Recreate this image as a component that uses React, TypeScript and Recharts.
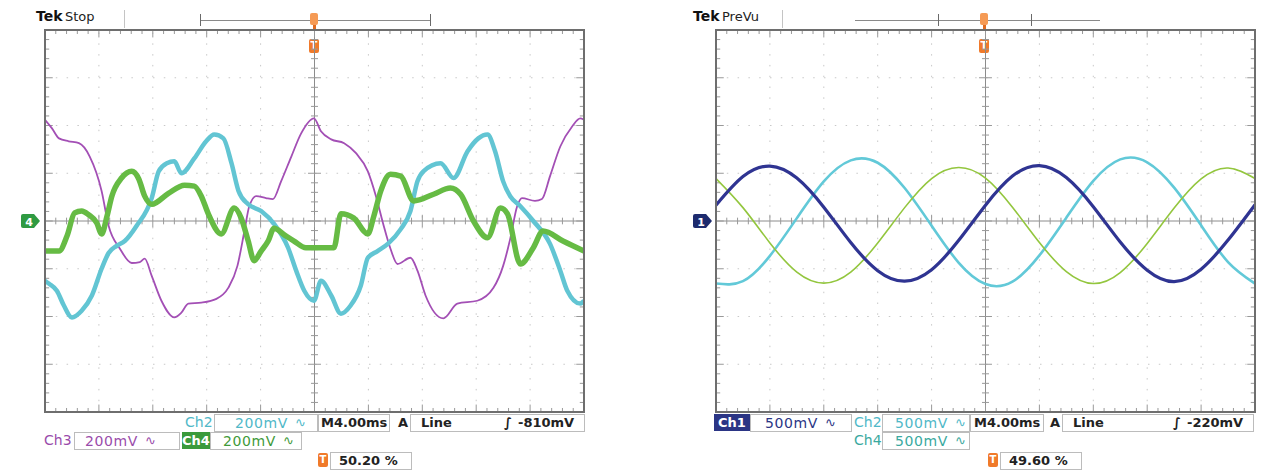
import { LineChart, Line, XAxis, YAxis, ReferenceLine } from "recharts";

type Pt = [number, number];

// left screen, time in divisions (0..10), volts in divisions (-4..4)
const ch3Left: Pt[] = [
  [0, 2.12], [0.13, 1.94], [0.26, 1.73], [0.44, 1.67], [0.63, 1.63], [0.83, 1.35], [1.05, 0.63],
  [1.18, -0.1], [1.39, -0.58], [1.61, -0.88], [1.76, -0.86], [1.85, -0.79], [1.98, -1.15], [2.16, -1.67],
  [2.4, -2.02], [2.53, -1.92], [2.66, -1.73], [2.9, -1.71], [3.18, -1.63], [3.4, -1.4], [3.57, -0.94],
  [3.7, -0.21], [3.79, 0.31], [3.92, 0.52], [4.1, 0.48], [4.23, 0.46], [4.38, 0.83], [4.57, 1.35],
  [4.75, 1.83], [4.99, 2.15], [5.12, 1.88], [5.31, 1.71], [5.55, 1.63], [5.77, 1.42], [5.99, 1.04],
  [6.14, 0.52], [6.27, -0.04], [6.41, -0.58], [6.54, -0.9], [6.78, -0.77], [6.91, -1.04], [7.06, -1.56],
  [7.39, -2.04], [7.65, -1.73], [8.02, -1.67], [8.32, -1.4], [8.5, -0.94], [8.63, -0.38], [8.76, 0.31],
  [8.85, 0.48], [9.09, 0.42], [9.22, 0.46], [9.37, 0.94], [9.56, 1.56], [9.78, 1.98], [9.93, 2.15], [10, 2.12],
];

const ch2Left: Pt[] = [
  [0, -1.25], [0.07, -1.31], [0.22, -1.46], [0.35, -1.77], [0.5, -2.02], [0.68, -1.88], [0.87, -1.56],
  [1.05, -1.0], [1.18, -0.67], [1.33, -0.52], [1.48, -0.42], [1.7, -0.1], [1.98, 0.48], [2.11, 1.04],
  [2.26, 1.21], [2.4, 1.25], [2.53, 1.0], [2.77, 1.31], [2.99, 1.67], [3.14, 1.81], [3.31, 1.73],
  [3.46, 1.21], [3.59, 0.63], [3.77, 0.35], [4.01, 0.21], [4.25, -0.06], [4.51, -0.56], [4.66, -1.04],
  [4.81, -1.46], [4.99, -1.67], [5.12, -1.25], [5.31, -1.56], [5.49, -1.94], [5.67, -1.77], [5.86, -1.35],
  [5.99, -0.77], [6.17, -0.63], [6.36, -0.48], [6.6, -0.17], [6.78, 0.21], [6.91, 0.83], [7.02, 1.04],
  [7.34, 1.21], [7.58, 0.9], [7.84, 1.46], [8.04, 1.73], [8.21, 1.81], [8.35, 1.46], [8.5, 0.83],
  [8.63, 0.52], [8.82, 0.31], [9.06, 0.0], [9.37, -0.48], [9.56, -1.04], [9.69, -1.46], [9.93, -1.73], [10, -1.67],
];

const ch4Left: Pt[] = [
  [0, -0.63], [0.13, -0.63], [0.26, -0.63], [0.41, -0.31], [0.55, 0.17], [0.68, 0.21], [0.81, 0.13],
  [0.96, -0.04], [1.05, -0.27], [1.15, 0.1], [1.24, 0.52], [1.42, 0.9], [1.61, 1.04], [1.74, 0.88],
  [1.85, 0.52], [1.98, 0.35], [2.29, 0.58], [2.59, 0.75], [2.77, 0.73], [2.9, 0.52], [3.03, 0.15],
  [3.27, -0.27], [3.51, 0.27], [3.64, 0.06], [3.77, -0.42], [3.88, -0.83], [4.01, -0.63], [4.14, -0.42],
  [4.25, -0.15], [4.44, -0.29], [4.62, -0.42], [4.84, -0.56], [5.12, -0.56], [5.36, -0.56], [5.49, 0.15],
  [5.73, 0.06], [5.99, -0.27], [6.1, 0.1], [6.23, 0.63], [6.41, 0.98], [6.6, 0.94], [6.84, 0.42],
  [7.21, 0.56], [7.52, 0.69], [7.71, 0.56], [7.95, 0.0], [8.21, -0.35], [8.45, 0.27], [8.58, 0.15],
  [8.82, -0.9], [9.06, -0.56], [9.24, -0.21], [9.61, -0.42], [10, -0.63],
];

// right screen, sampled every half division
const rightTimes = [0, 0.5, 1, 1.5, 2, 2.5, 3, 3.5, 4, 4.5, 5, 5.5, 6, 6.5, 7, 7.5, 8, 8.5, 9, 9.5, 10];
const ch1Right = [0.33, 0.93, 1.15, 0.9, 0.29, -0.45, -1.04, -1.26, -1.02, -0.41, 0.33, 0.94, 1.16, 0.91, 0.3, -0.44, -1.03, -1.27, -1.01, -0.4, 0.34];
const ch2Right = [-1.31, -1.26, -0.73, 0.06, 0.83, 1.27, 1.22, 0.69, -0.1, -0.87, -1.32, -1.27, -0.72, 0.07, 0.84, 1.29, 1.23, 0.7, -0.09, -0.86, -1.31];
const ch4Right = [0.89, 0.28, -0.46, -1.07, -1.3, -1.07, -0.46, 0.28, 0.89, 1.12, 0.9, 0.29, -0.45, -1.06, -1.31, -1.08, -0.47, 0.27, 0.88, 1.11, 0.89];

const FONT = '"DejaVu Sans", Verdana, sans-serif';
const PLOT_W = 539;
const PLOT_H = 382;
const TOP = 30;

const pairsToRows = (pts: Pt[]) => pts.map(([t, v]) => ({ t, v }));
const seriesToRows = (vals: number[]) => vals.map((v, i) => ({ t: rightTimes[i], v }));

function graticule(key: string) {
  const out: any[] = [];
  const grid = "#c8c8c8";
  const tick = "#999";
  for (let i = 1; i < 10; i++) {
    if (i === 5) continue;
    out.push(<ReferenceLine key={`${key}gx${i}`} x={i} stroke={grid} strokeDasharray="1.5 9.3" />);
  }
  for (let j = -3; j <= 3; j++) {
    if (j === 0) continue;
    out.push(<ReferenceLine key={`${key}gy${j}`} y={j} stroke={grid} strokeDasharray="1.5 9.3" />);
  }
  out.push(<ReferenceLine key={`${key}cx`} x={5} stroke="#8c8c8c" />);
  out.push(<ReferenceLine key={`${key}cy`} y={0} stroke="#8c8c8c" />);
  for (let i = 1; i < 50; i++) {
    const x = i / 5;
    const major = i % 5 === 0;
    const h = major ? 0.13 : 0.07;
    out.push(<ReferenceLine key={`${key}hc${i}`} segment={[{ x, y: -h }, { x, y: h }]} stroke={tick} />);
    out.push(<ReferenceLine key={`${key}ht${i}`} segment={[{ x, y: 4 }, { x, y: 4 - h * 1.2 }]} stroke={tick} />);
    out.push(<ReferenceLine key={`${key}hb${i}`} segment={[{ x, y: -4 }, { x, y: -4 + h * 1.2 }]} stroke={tick} />);
  }
  for (let j = 1; j < 40; j++) {
    const y = -4 + j / 5;
    const major = j % 5 === 0;
    const w = major ? 0.12 : 0.065;
    out.push(<ReferenceLine key={`${key}vc${j}`} segment={[{ x: 5 - w, y }, { x: 5 + w, y }]} stroke={tick} />);
    out.push(<ReferenceLine key={`${key}vl${j}`} segment={[{ x: 0, y }, { x: w * 1.2, y }]} stroke={tick} />);
    out.push(<ReferenceLine key={`${key}vr${j}`} segment={[{ x: 10, y }, { x: 10 - w * 1.2, y }]} stroke={tick} />);
  }
  return out;
}

function Screen({ left, id, traces }: { left: number; id: string; traces: any[] }) {
  return (
    <>
      <div style={{ position: "absolute", left, top: TOP }}>
        <LineChart width={PLOT_W} height={PLOT_H} margin={{ top: 0, right: 0, bottom: 0, left: 0 }}>
          <XAxis type="number" dataKey="t" domain={[0, 10]} hide allowDataOverflow />
          <YAxis type="number" dataKey="v" domain={[-4, 4]} hide allowDataOverflow />
          {graticule(id)}
          {traces}
        </LineChart>
      </div>
      <div
        style={{
          position: "absolute",
          left: left - 1,
          top: TOP - 1,
          width: PLOT_W + 2,
          height: PLOT_H + 2,
          border: "2px solid #6e6e6e",
          boxSizing: "border-box",
          pointerEvents: "none",
        }}
      />
    </>
  );
}

function Txt({ x, y, color = "#222", bold = false, bg, w, size = 14, children }: any) {
  return (
    <div
      style={{
        position: "absolute",
        left: x,
        top: y,
        width: w,
        height: 17,
        lineHeight: "17px",
        fontFamily: FONT,
        fontSize: size,
        fontWeight: bold ? "bold" : "normal",
        color,
        background: bg,
        whiteSpace: "nowrap",
        textAlign: w ? "center" : "left",
      }}
    >
      {children}
    </div>
  );
}

function Box({ x, y, w, children }: any) {
  return (
    <div
      style={{
        position: "absolute",
        left: x,
        top: y,
        width: w,
        height: 18,
        border: "1px solid #bcbcbc",
        boxSizing: "border-box",
      }}
    >
      {children}
    </div>
  );
}

// text placed inside a box, x relative to the box
function In({ x, color = "#222", bold = false, size = 14, spacing = 0, children }: any) {
  return (
    <span
      style={{
        position: "absolute",
        left: x,
        top: 0,
        lineHeight: "16px",
        fontFamily: FONT,
        fontSize: size,
        fontWeight: bold ? "bold" : "normal",
        letterSpacing: spacing,
        color,
        whiteSpace: "pre",
      }}
    >
      {children}
    </span>
  );
}

function Volts({ x, y, w, pad, color, label }: any) {
  return (
    <Box x={x} y={y} w={w}>
      <In x={pad} color={color} spacing={0.6}>{label}</In>
      <In x={pad + 60} color={color} size={13}>∿</In>
    </Box>
  );
}

function TrigIcon({ x, y }: { x: number; y: number }) {
  return (
    <div
      style={{
        position: "absolute",
        left: x,
        top: y,
        width: 10,
        height: 14,
        background: "#f07a2a",
        borderRadius: 2,
        color: "#fff",
        fontFamily: FONT,
        fontSize: 10,
        fontWeight: "bold",
        lineHeight: "14px",
        textAlign: "center",
      }}
    >
      T
    </div>
  );
}

function ChanMarker({ x, y, fill, label }: { x: number; y: number; fill: string; label: string }) {
  return (
    <svg style={{ position: "absolute", left: x, top: y }} width={20} height={16}>
      <path d="M2 1 H13 L19 8 L13 15 H2 Q0 15 0 13 V3 Q0 1 2 1 Z" fill={fill} />
      <text x={8} y={12.5} fill="#fff" fontSize={11} fontWeight="bold" fontFamily={FONT} textAnchor="middle">
        {label}
      </text>
    </svg>
  );
}

function TopBar({ x0, x1, b0, b1, cx, mark }: any) {
  return (
    <>
      <div style={{ position: "absolute", left: mark, top: 10, width: 1, height: 18, background: "#c4c4c4" }} />
      <div style={{ position: "absolute", left: x0, top: 20, width: x1 - x0, height: 1, background: "#8a8a8a" }} />
      <div style={{ position: "absolute", left: b0, top: 14, width: 1, height: 12, background: "#6a6a6a" }} />
      <div style={{ position: "absolute", left: b1, top: 14, width: 1, height: 12, background: "#6a6a6a" }} />
      <div style={{ position: "absolute", left: cx - 4, top: 13, width: 8, height: 12, background: "#f59a55", borderRadius: 2 }} />
      <div style={{ position: "absolute", left: cx - 1, top: 25, width: 3, height: 5, background: "#e06a20" }} />
      <TrigIcon x={cx - 5} y={39} />
    </>
  );
}

function Trigger({ x, y, w, level }: any) {
  return (
    <Box x={x} y={y} w={w}>
      <In x={10} bold size={13}>Line</In>
      <In x={w - 82} bold size={13}>∫</In>
      <In x={w - 68} bold size={13}>{level}</In>
    </Box>
  );
}

export default function App() {
  const leftTraces = [
    <Line key="c3" data={pairsToRows(ch3Left)} dataKey="v" type="monotone" dot={false} stroke="#a34fb5" strokeWidth={1.8} isAnimationActive={false} />,
    <Line key="c2" data={pairsToRows(ch2Left)} dataKey="v" type="monotone" dot={false} stroke="#62c5d3" strokeWidth={4.5} isAnimationActive={false} />,
    <Line key="c4" data={pairsToRows(ch4Left)} dataKey="v" type="monotone" dot={false} stroke="#66bb44" strokeWidth={5.5} isAnimationActive={false} />,
  ];
  const rightTraces = [
    <Line key="r2" data={seriesToRows(ch2Right)} dataKey="v" type="natural" dot={false} stroke="#62c9d8" strokeWidth={2.6} isAnimationActive={false} />,
    <Line key="r4" data={seriesToRows(ch4Right)} dataKey="v" type="natural" dot={false} stroke="#93c63e" strokeWidth={1.6} isAnimationActive={false} />,
    <Line key="r1" data={seriesToRows(ch1Right)} dataKey="v" type="natural" dot={false} stroke="#2f3492" strokeWidth={3.2} isAnimationActive={false} />,
  ];

  return (
    <div style={{ position: "absolute", left: 0, top: 0, width: 1273, height: 470, background: "#fff", overflow: "hidden" }}>
      {/* left scope */}
      <div style={{ position: "absolute", left: 36, top: 8, fontFamily: FONT, fontSize: 14, fontWeight: "bold", color: "#111" }}>Tek</div>
      <div style={{ position: "absolute", left: 65, top: 9, fontFamily: FONT, fontSize: 13, color: "#222" }}>Stop</div>
      <TopBar x0={200} x1={430} b0={200} b1={430} cx={314} mark={124} />
      <Screen left={45} id="L" traces={leftTraces} />
      <ChanMarker x={21} y={213} fill="#2f9a42" label="4" />

      <Txt x={185} y={414} color="#4fb8c8">Ch2</Txt>
      <Volts x={214} y={414} w={104} pad={20} color="#4fb8c8" label="200mV" />
      <Box x={318} y={414} w={72}><In x={2} bold size={13}>M4.00ms</In></Box>
      <Txt x={398} y={414} bold size={13}>A</Txt>
      <Trigger x={410} y={414} w={175} level="-810mV" />

      <Txt x={44} y={432} color="#9a4cab">Ch3</Txt>
      <Volts x={74} y={432} w={106} pad={10} color="#9a4cab" label="200mV" />
      <Txt x={182} y={432} w={28} color="#fff" bg="#3a9a3c" bold size={13}>Ch4</Txt>
      <Volts x={210} y={432} w={92} pad={12} color="#3f9a3a" label="200mV" />
      <TrigIcon x={318} y={453} />
      <Box x={330} y={452} w={82}><In x={8} bold size={13}>50.20 %</In></Box>

      {/* right scope */}
      <div style={{ position: "absolute", left: 693, top: 8, fontFamily: FONT, fontSize: 14, fontWeight: "bold", color: "#111" }}>Tek</div>
      <div style={{ position: "absolute", left: 722, top: 9, fontFamily: FONT, fontSize: 13, color: "#222" }}>PreVu</div>
      <TopBar x0={855} x1={1100} b0={938} b1={1031} cx={984} mark={782} />
      <Screen left={716} id="R" traces={rightTraces} />
      <ChanMarker x={693} y={213} fill="#1d2b6e" label="1" />

      <Txt x={714} y={414} w={36} color="#fff" bg="#2b3585" bold size={13}>Ch1</Txt>
      <Volts x={750} y={414} w={102} pad={14} color="#2b3585" label="500mV" />
      <Txt x={854} y={414} color="#4fb8c8">Ch2</Txt>
      <Volts x={882} y={414} w={88} pad={12} color="#4fb8c8" label="500mV" />
      <Box x={970} y={414} w={74}><In x={3} bold size={13}>M4.00ms</In></Box>
      <Txt x={1050} y={414} bold size={13}>A</Txt>
      <Trigger x={1062} y={414} w={192} level="-220mV" />
      <Txt x={854} y={432} color="#3aa9a0">Ch4</Txt>
      <Volts x={882} y={432} w={88} pad={12} color="#3aa9a0" label="500mV" />
      <TrigIcon x={988} y={453} />
      <Box x={1000} y={452} w={82}><In x={8} bold size={13}>49.60 %</In></Box>
    </div>
  );
}
